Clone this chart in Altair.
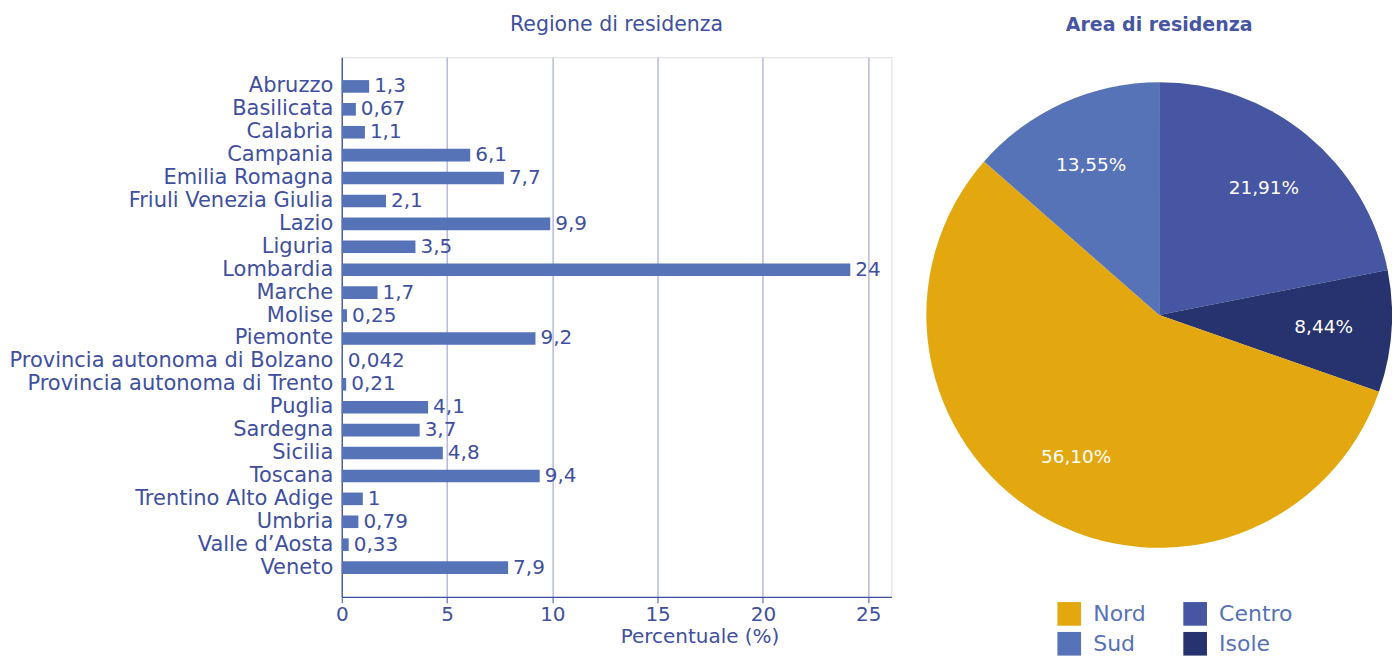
import altair as alt
import pandas as pd

regioni = ["Abruzzo", "Basilicata", "Calabria", "Campania", "Emilia Romagna",
           "Friuli Venezia Giulia", "Lazio", "Liguria", "Lombardia", "Marche",
           "Molise", "Piemonte", "Provincia autonoma di Bolzano",
           "Provincia autonoma di Trento", "Puglia", "Sardegna", "Sicilia",
           "Toscana", "Trentino Alto Adige", "Umbria", "Valle d’Aosta", "Veneto"]
percentuali = [1.3, 0.67, 1.1, 6.1, 7.7, 2.1, 9.9, 3.5, 24.15, 1.7, 0.25, 9.2,
               0.042, 0.21, 4.1, 3.7, 4.8, 9.4, 1.0, 0.79, 0.33, 7.9]
etichette = ["1,3", "0,67", "1,1", "6,1", "7,7", "2,1", "9,9", "3,5", "24", "1,7",
             "0,25", "9,2", "0,042", "0,21", "4,1", "3,7", "4,8", "9,4", "1",
             "0,79", "0,33", "7,9"]

aree = ["Centro", "Isole", "Nord", "Sud"]
quote = [21.91, 8.44, 56.10, 13.55]
quote_etichette = ["21,91%", "8,44%", "56,10%", "13,55%"]
legenda_ordine = ["Nord", "Sud", "Centro", "Isole"]
legenda_colori = ["#e3a80f", "#5773b8", "#4656a3", "#27336e"]

FONT = "DejaVu Sans"
TXT = "#4050a0"

bar_df = pd.DataFrame({"regione": regioni, "valore": percentuali, "etichetta": etichette})
pie_df = pd.DataFrame({"area": aree, "valore": quote, "etichetta": quote_etichette,
                       "ordine": list(range(len(aree)))})

ybase = alt.Chart(bar_df).encode(
    y=alt.Y("regione:N", sort=regioni,
            scale=alt.Scale(paddingInner=0.45, paddingOuter=1),
            axis=alt.Axis(title=None, ticks=False, labelFontSize=21, labelColor=TXT,
                          labelFont=FONT, labelPadding=9, labelLimit=400,
                          domainColor=TXT, domainWidth=1.2, grid=False)),
    x=alt.X("valore:Q", scale=alt.Scale(domain=[0, 26.1], nice=False),
            axis=alt.Axis(title="Percentuale (%)", values=[0, 5, 10, 15, 20, 25],
                          labelFontSize=20, labelColor=TXT, labelFont=FONT,
                          labelFlush=False,
                          titleFontSize=20, titleColor=TXT, titleFont=FONT,
                          titleFontWeight="normal", titleX=358, titlePadding=2,
                          domainColor=TXT, domainWidth=1.2, tickColor=TXT,
                          tickSize=6, labelPadding=2,
                          grid=True, gridColor="#a3aad6", gridWidth=1.2)),
)
bars = ybase.mark_bar(color="#5773b8")
bar_text = ybase.mark_text(align="left", baseline="middle", dx=5, fontSize=20,
                           color=TXT, font=FONT).encode(text="etichetta:N")
left = (bars + bar_text).properties(
    width=550, height=540,
    title=alt.TitleParams("Regione di residenza", fontSize=20.5, font=FONT,
                          fontWeight="normal", color=TXT, anchor="middle", offset=22))

pbase = alt.Chart(pie_df).encode(
    theta=alt.Theta("valore:Q", stack=True),
    order=alt.Order("ordine:Q"),
)
arcs = pbase.mark_arc(radius=233).encode(
    color=alt.Color("area:N",
                    scale=alt.Scale(domain=legenda_ordine, range=legenda_colori),
                    legend=alt.Legend(title=None, orient="none", legendX=716, legendY=545,
                                      columns=2, symbolType="square", symbolSize=560,
                                      symbolStrokeWidth=0, labelFontSize=22,
                                      labelColor="#5773b8", labelFont=FONT,
                                      labelOffset=12, columnPadding=37, rowPadding=6)))
pie_text = pbase.mark_text(radius=165, fontSize=18.5, font=FONT).encode(
    text="etichetta:N", color=alt.value("white"))
right = (arcs + pie_text).properties(
    width=300, height=516,
    title=alt.TitleParams("Area di residenza", fontSize=19, font=FONT,
                          fontWeight="bold", color="#4656a3", anchor="middle", offset=22))

chart = alt.hconcat(left, right, spacing=118, bounds="flush").properties(
    padding={"left": 0, "top": 6, "right": 0, "bottom": 0}
).configure_view(stroke=None).configure(font=FONT)

chart.save("out.html", embed_options={"renderer": "svg", "actions": False})
